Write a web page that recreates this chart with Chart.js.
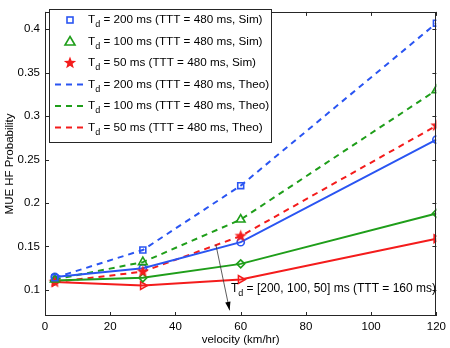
<!DOCTYPE html>
<html><head><meta charset="utf-8">
<script src="https://cdn.jsdelivr.net/npm/chart.js@4/dist/chart.umd.min.js"></script>
<style>html,body{margin:0;padding:0;background:#fff}#wrap{width:450px;height:348px}</style>
</head><body><div id="wrap"><canvas id="c" width="450" height="348"></canvas></div>
<script>
const velocity = [3, 30, 60, 120];
const simTd200 = [0.114, 0.146, 0.220, 0.407];
const simTd100 = [0.112, 0.132, 0.181, 0.330];
const simTd50  = [0.109, 0.121, 0.162, 0.289];
const theoTd200 = [0.114, 0.146, 0.220, 0.407];
const theoTd100 = [0.112, 0.132, 0.181, 0.330];
const theoTd50  = [0.109, 0.121, 0.162, 0.289];
const ttt160Td200 = [0.115, 0.125, 0.155, 0.273];
const ttt160Td100 = [0.111, 0.114, 0.130, 0.188];
const ttt160Td50  = [0.109, 0.105, 0.112, 0.159];
const xTicks = [0, 20, 40, 60, 80, 100, 120];
const yTicks = [0.1, 0.15, 0.2, 0.25, 0.3, 0.35, 0.4];
const legendLabels = [
  ' = 200 ms (TTT = 480 ms, Sim)',
  ' = 100 ms (TTT = 480 ms, Sim)',
  ' = 50 ms (TTT = 480 ms, Sim)',
  ' = 200 ms (TTT = 480 ms, Theo)',
  ' = 100 ms (TTT = 480 ms, Theo)',
  ' = 50 ms (TTT = 480 ms, Theo)'
];
const annotationText = ' = [200, 100, 50] ms (TTT = 160 ms)';

const BLUE = '#2a55f2', GREEN = '#1f9e1a', RED = '#f41c1c';
const FONT = '"Liberation Sans", Arial, sans-serif';

function pts(ys){ return velocity.map((x,i)=>({x:x, y:ys[i]})); }

function starCanvas(color, r){
  const c = document.createElement('canvas');
  const s = Math.ceil(r*2+2); c.width = s; c.height = s;
  const g = c.getContext('2d');
  drawStar(g, s/2, s/2, r, color);
  return c;
}
function drawStar(g, cx, cy, r, color){
  g.beginPath();
  for (let i=0;i<10;i++){
    const rr = i%2===0 ? r : r*0.42;
    const a = -Math.PI/2 + i*Math.PI/5;
    const px = cx + rr*Math.cos(a), py = cy + rr*Math.sin(a);
    if(i===0) g.moveTo(px,py); else g.lineTo(px,py);
  }
  g.closePath(); g.fillStyle = color; g.fill();
}
const redStar = starCanvas(RED, 6.5);

function markerDs(label, ys, color, style, extra){
  return Object.assign({label, data: pts(ys), borderColor: color, backgroundColor: 'rgba(0,0,0,0)',
    showLine:false, pointStyle: style, pointRadius: 4.2, pointBorderWidth: 1.6, order: 0}, extra||{});
}
function lineDs(label, ys, color, dashed, style, extra){
  return Object.assign({label, data: pts(ys), borderColor: color, backgroundColor:'rgba(0,0,0,0)',
    showLine:true, borderWidth: 2, borderDash: dashed ? [6,5] : [], pointStyle: style||false,
    pointRadius: style ? 3.6 : 0, pointBorderWidth: 1.6, tension: 0, order: 1}, extra||{});
}

const datasets = [
  lineDs('ttt160 200', ttt160Td200, BLUE, false, 'circle'),
  lineDs('ttt160 100', ttt160Td100, GREEN, false, 'rectRot', {pointRadius:4}),
  lineDs('ttt160 50', ttt160Td50, RED, false, 'triangle', {pointRotation: 90, pointRadius: 4.5}),
  lineDs('theo 200', theoTd200, BLUE, true),
  lineDs('theo 100', theoTd100, GREEN, true),
  lineDs('theo 50', theoTd50, RED, true),
  markerDs('sim 200', simTd200, BLUE, 'rect'),
  markerDs('sim 100', simTd100, GREEN, 'triangle', {pointRadius: 5}),
  markerDs('sim 50', simTd50, RED, redStar)
];

function drawTd(g, x, y, rest, size){
  g.font = size + 'px ' + FONT;
  g.textBaseline = 'middle'; g.textAlign = 'left';
  g.fillText('T', x, y);
  const tw = g.measureText('T').width;
  g.font = Math.round(size*0.75) + 'px ' + FONT;
  g.fillText('d', x + tw, y + 5);
  const dw = g.measureText('d').width;
  g.font = size + 'px ' + FONT;
  g.fillText(rest, x + tw + dw, y);
}

const framePlugin = {
  id: 'frame',
  afterDatasetsDraw(chart){
    const g = chart.ctx, a = chart.chartArea;
    const xs = chart.scales.x, ys = chart.scales.y;
    g.save();
    g.strokeStyle = '#262626'; g.lineWidth = 1;
    g.strokeRect(Math.round(a.left)+0.5, Math.round(a.top)+0.5, Math.round(a.right-a.left)-1, Math.round(a.bottom-a.top)-1);
    g.beginPath();
    xTicks.forEach(v=>{
      const px = Math.round(xs.getPixelForValue(v))+0.5;
      g.moveTo(px, a.bottom); g.lineTo(px, a.bottom-4);
      g.moveTo(px, a.top); g.lineTo(px, a.top+4);
    });
    yTicks.forEach(v=>{
      const py = Math.round(ys.getPixelForValue(v))+0.5;
      g.moveTo(a.left, py); g.lineTo(a.left+4, py);
      g.moveTo(a.right, py); g.lineTo(a.right-4, py);
    });
    g.stroke();

    const x0 = xs.getPixelForValue(52.4), y0 = ys.getPixelForValue(0.152);
    const x1 = xs.getPixelForValue(56.6), y1 = ys.getPixelForValue(0.0765);
    g.strokeStyle = '#333'; g.lineWidth = 0.8;
    g.beginPath(); g.moveTo(x0,y0); g.lineTo(x1,y1); g.stroke();
    const ang = Math.atan2(y1-y0, x1-x0);
    g.fillStyle = '#000';
    g.beginPath(); g.moveTo(x1,y1);
    g.lineTo(x1 - 9*Math.cos(ang-0.3), y1 - 9*Math.sin(ang-0.3));
    g.lineTo(x1 - 9*Math.cos(ang+0.3), y1 - 9*Math.sin(ang+0.3));
    g.closePath(); g.fill();

    g.fillStyle = '#000';
    drawTd(g, xs.getPixelForValue(57.0), ys.getPixelForValue(0.1012), annotationText, 12);

    const L = 49.5, T = 9.5, W = 222, H = 133;
    g.fillStyle = '#fff'; g.fillRect(L, T, W, H);
    g.strokeStyle = '#262626'; g.lineWidth = 1; g.strokeRect(L, T, W, H);
    const rowY = [20, 41.5, 63, 84.5, 106, 127.5];
    const cols = [BLUE, GREEN, RED, BLUE, GREEN, RED];
    const mx = 70;
    rowY.forEach((y,i)=>{
      const c = cols[i];
      g.strokeStyle = c; g.lineWidth = 1.6;
      if (i===0){ g.strokeRect(mx-3, y-3, 6, 6); }
      else if (i===1){ g.beginPath(); g.moveTo(mx, y-5); g.lineTo(mx+5, y+3.5); g.lineTo(mx-5, y+3.5); g.closePath(); g.stroke(); }
      else if (i===2){ drawStar(g, mx, y, 6.5, c); }
      else { g.lineWidth = 2; g.setLineDash([6,5]); g.beginPath(); g.moveTo(55, y); g.lineTo(88, y); g.stroke(); g.setLineDash([]); }
      g.fillStyle = '#000';
      drawTd(g, 88, y, legendLabels[i], 11.7);
    });
    g.restore();
  }
};

new Chart(document.getElementById('c'), {
  type: 'scatter',
  data: { datasets },
  options: {
    responsive: false, animation: false, devicePixelRatio: 1,
    layout: { padding: { top: 6, right: 11, left: 0, bottom: 0 } },
    plugins: { legend: { display: false }, tooltip: { enabled: false } },
    scales: {
      x: {
        type: 'linear', min: 0, max: 120,
        afterBuildTicks: s => { s.ticks = xTicks.map(v=>({value:v})); },
        afterFit: s => { s.height = 32; },
        grid: { display: false, drawTicks: false }, border: { display: false },
        ticks: { color: '#000', padding: 4, font: { family: FONT, size: 11.5 }, maxRotation: 0 },
        title: { display: true, text: 'velocity (km/hr)', color: '#000', font: { family: FONT, size: 11.5 }, padding: { top: 0, bottom: 1 } }
      },
      y: {
        type: 'linear', min: 0.07, max: 0.42,
        afterBuildTicks: s => { s.ticks = yTicks.map(v=>({value:v})); },
        afterFit: s => { s.width = 45; },
        grid: { display: false, drawTicks: false }, border: { display: false },
        ticks: { color: '#000', padding: 5, font: { family: FONT, size: 11.5 },
          callback: v => String(+(+v).toFixed(2)) },
        title: { display: true, text: 'MUE HF Probability', color: '#000', font: { family: FONT, size: 11.5 }, padding: { top: 3, bottom: 0 } }
      }
    }
  },
  plugins: [framePlugin]
});
</script></body></html>
